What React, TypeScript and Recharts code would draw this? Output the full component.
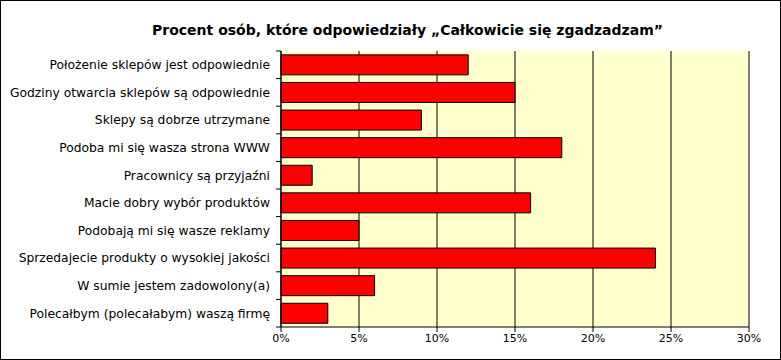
import React from 'react';
import { BarChart, Bar, XAxis, YAxis, CartesianGrid } from 'recharts';

const categories = [
  'Położenie sklepów jest odpowiednie',
  'Godziny otwarcia sklepów są odpowiednie',
  'Sklepy są dobrze utrzymane',
  'Podoba mi się wasza strona WWW',
  'Pracownicy są przyjaźni',
  'Macie dobry wybór produktów',
  'Podobają mi się wasze reklamy',
  'Sprzedajecie produkty o wysokiej jakości',
  'W sumie jestem zadowolony(a)',
  'Polecałbym (polecałabym) waszą firmę',
];

const percents = [12, 15, 9, 18, 2, 16, 5, 24, 6, 3];

const xTicks = [0, 5, 10, 15, 20, 25, 30];

const title = 'Procent osób, które odpowiedziały „Całkowicie się zgadzadzam”';

const data = categories.map((name, i) => ({ name, value: percents[i] }));

const font = 'DejaVu Sans, sans-serif';

// category label plus small tick marks on the band edges (not the centre)
function CategoryTick(props: any) {
  const { x, y, payload, index, visibleTicksCount } = props;
  const half = payload.offset || 0;
  const axisX = x + 5 + 6;
  const isLast = index === (visibleTicksCount ?? categories.length) - 1;
  return (
    <g>
      <line x1={axisX - 5} x2={axisX} y1={y - half} y2={y - half} stroke="#000" />
      {isLast && <line x1={axisX - 5} x2={axisX} y1={y + half} y2={y + half} stroke="#000" />}
      <text x={x} y={y} dy="0.355em" textAnchor="end" fontSize={12.3} fill="#000" fontFamily={font}>
        {payload.value}
      </text>
    </g>
  );
}

export default function App() {
  return (
    <div style={{ position: 'absolute', left: 0, top: 0, width: 781, height: 360, background: '#fff', fontFamily: font }}>
      <div
        style={{
          position: 'absolute',
          left: 0,
          width: 815,
          top: 22,
          textAlign: 'center',
          fontSize: 14,
          fontWeight: 'bold',
          color: '#000',
          whiteSpace: 'nowrap',
        }}
      >
        {title}
      </div>
      <BarChart
        width={781}
        height={360}
        data={data}
        layout="vertical"
        margin={{ top: 51, right: 32, left: 0, bottom: 0 }}
        barCategoryGap="14%"
      >
        <CartesianGrid horizontal={false} stroke="#000" fill="#FFFFCC" fillOpacity={1} />
        <XAxis
          type="number"
          domain={[0, 30]}
          ticks={xTicks}
          tickFormatter={(v) => `${v}%`}
          height={33}
          tickSize={5}
          stroke="#000"
          tick={{ fontSize: 11, fill: '#000', fontFamily: font }}
          interval={0}
        />
        <YAxis
          dataKey="name"
          type="category"
          width={281}
          tickLine={false}
          tickSize={6}
          tickMargin={5}
          stroke="#000"
          tick={<CategoryTick />}
          interval={0}
        />
        <Bar dataKey="value" fill="#FF0000" stroke="#000" strokeWidth={1} isAnimationActive={false} />
      </BarChart>
      <div
        style={{
          position: 'absolute',
          left: 0,
          top: 0,
          width: 781,
          height: 360,
          boxSizing: 'border-box',
          border: '1px solid #000',
          pointerEvents: 'none',
        }}
      />
    </div>
  );
}
